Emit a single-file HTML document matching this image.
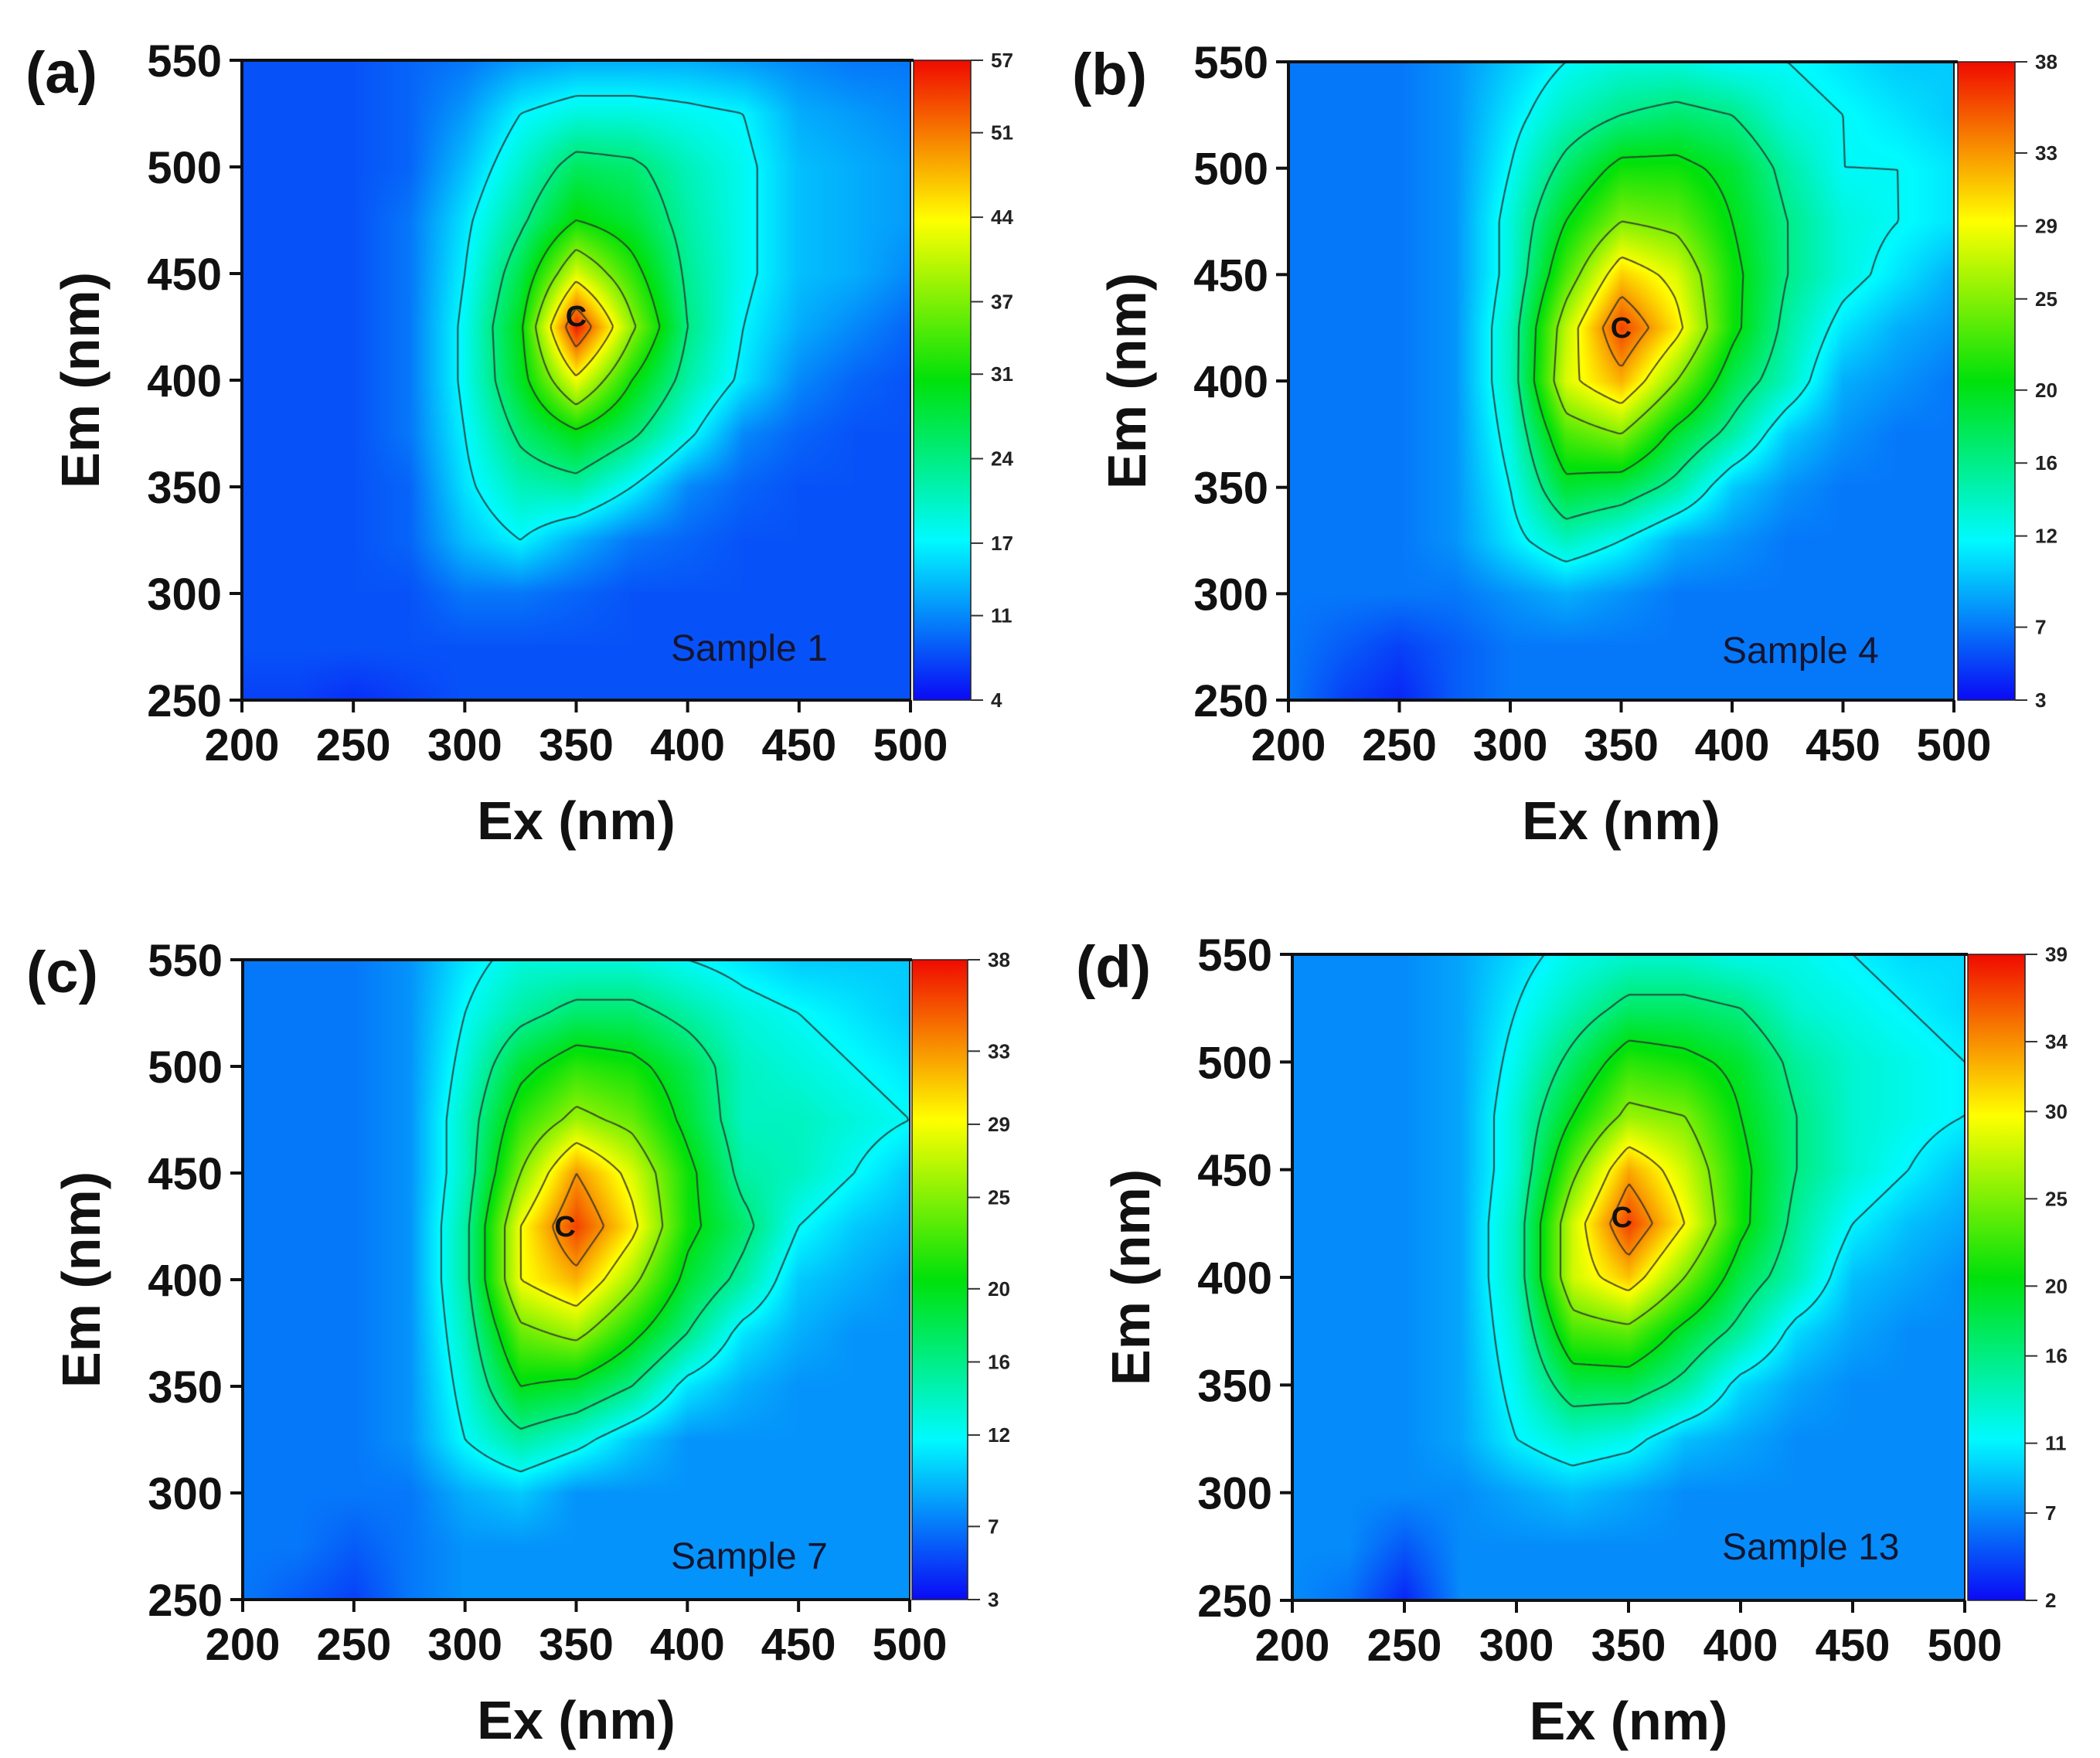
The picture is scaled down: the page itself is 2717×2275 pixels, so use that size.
<!DOCTYPE html>
<html><head><meta charset="utf-8">
<style>
html,body{margin:0;padding:0;background:#fff;}
body{width:2717px;height:2275px;position:relative;overflow:hidden;font-family:"Liberation Sans",Arial,sans-serif;}
canvas{position:absolute;}
svg{position:absolute;left:0;top:0;}
</style></head>
<body>
<canvas id="cvA"></canvas>
<canvas id="cvB"></canvas>
<canvas id="cvC"></canvas>
<canvas id="cvD"></canvas>
<svg id="ov" width="2717" height="2275" xmlns="http://www.w3.org/2000/svg"></svg>
<script>
// ---- data ----
const exCats = [200,225,250,275,300,325,350,375,400,425,450,475,500];
const emCats = [550,525,500,475,450,425,400,375,350,325,300,275,250];
const xTicks = [200,250,300,350,400,450,500];
const yTicks = [250,300,350,400,450,500,550];

const gridA = [
[8,8,8,9,10,12,13,13,13,12,11,10,10],
[8,8,8,9,12,17,19,19,18,17,13,12,11],
[8,8,8,9,14,20,26,25,21,18,14,13,12],
[8,8,8,10,16,23,31,28,22,18,14,13,12],
[8,8,8,10,17,27,42,33,23,18,14,13,11],
[8,8,8,10,18,30,56,38,24,17,13,11,9],
[8,8,8,10,18,29,43,31,22,16,11,9,8],
[8,8,8,10,17,25,30,25,18,11,9,8,8],
[8,8,8,9,16,21,22,17,11,9,8,8,8],
[8,8,8,9,14,17,13,10,9,8,8,8,8],
[8,8,8,8,10,10,9,8,8,8,8,8,8],
[8,8,8,8,8,8,8,8,8,8,8,8,8],
[7,7,6,7,8,8,8,8,8,8,8,8,8]];
const gridB = [
[7,7,7,8,10,12,13,13,12,12,11,10,10],
[7,7,7,8,11,14,16,17,16,13,12,11,10],
[7,7,7,8,12,17,21,21,19,15,12,12,11],
[7,7,7,8,13,20,25,24,20,16,13,12,11],
[7,7,7,8,13,23,31,28,21,16,13,11,9],
[7,7,7,8,14,27,36,30,21,15,11,9,8],
[7,7,7,8,14,28,32,25,18,14,9,8,7],
[7,7,7,8,13,23,25,19,15,10,8,7,7],
[7,7,7,8,12,19,18,15,10,8,7,7,7],
[7,7,7,8,11,14,12,9,8,7,7,7,7],
[7,7,7,7,8,9,8,7,7,7,7,7,7],
[7,6,5,6,7,7,7,7,7,7,7,7,7],
[7,5,4,6,7,7,7,7,7,7,7,7,7]];
const gridC = [
[7,7,7,8,11,13,13,13,12,11,10,10,10],
[7,7,7,8,12,15,17,17,15,13,12,11,10],
[7,7,7,8,13,19,22,21,18,14,13,12,11],
[7,7,7,8,14,22,26,24,19,14,14,13,12],
[7,7,7,8,14,25,33,28,21,15,14,12,10],
[7,7,7,8,15,29,36,30,21,17,12,10,9],
[7,7,7,8,15,29,32,26,19,15,10,9,8],
[7,7,7,8,14,24,26,21,16,11,9,8,8],
[7,7,7,8,13,20,19,16,11,9,8,8,8],
[7,7,7,8,12,15,13,10,8,8,8,8,8],
[7,7,7,7,9,10,8,8,8,8,8,8,8],
[7,7,6,7,8,8,8,8,8,8,8,8,8],
[7,6,5,7,8,8,8,8,8,8,8,8,8]];
const gridD = [
[7,7,7,8,10,12,13,13,12,12,11,10,10],
[7,7,7,8,11,14,17,17,16,13,12,11,10],
[7,7,7,8,12,17,22,21,19,15,13,12,11],
[7,7,7,8,13,20,26,25,20,16,13,12,11],
[7,7,7,8,13,24,33,28,21,16,13,11,9],
[7,7,7,8,14,28,37,30,21,15,11,9,8],
[7,7,7,8,14,28,32,25,18,14,9,8,7],
[7,7,7,8,13,23,24,19,15,10,8,7,7],
[7,7,7,8,12,18,18,15,10,8,7,7,7],
[7,7,7,8,11,13,12,9,8,7,7,7,7],
[7,7,7,7,8,9,8,7,7,7,7,7,7],
[7,7,5,7,7,7,7,7,7,7,7,7,7],
[7,6,3,7,7,7,7,7,7,7,7,7,7]];

const cbTicksA = [4,11,17,24,31,37,44,51,57];
const cbTicksB = [3,7,12,16,20,25,29,33,38];
const cbTicksC = [3,7,12,16,20,25,29,33,38];
const cbTicksD = [2,7,11,16,20,25,30,34,39];

const peakA = [350,430], peakB = [350,425], peakC = [345,425], peakD = [347,428];

// ---- layout ----
const panels = [
 {id:'a', cv:'cvA', grid:gridA, ticks:cbTicksA, peak:peakA, sample:'Sample 1', x0:313,x1:1178,y0:78,y1:906, cb0:1182,cb1:1256, sx:868, sy:855},
 {id:'b', cv:'cvB', grid:gridB, ticks:cbTicksB, peak:peakB, sample:'Sample 4', x0:1667,x1:2528,y0:80,y1:906, cb0:2533,cb1:2607, sx:2228, sy:858},
 {id:'c', cv:'cvC', grid:gridC, ticks:cbTicksC, peak:peakC, sample:'Sample 7', x0:314,x1:1177,y0:1242,y1:2070, cb0:1180,cb1:1252, sx:868, sy:2030},
 {id:'d', cv:'cvD', grid:gridD, ticks:cbTicksD, peak:peakD, sample:'Sample 13', x0:1672,x1:2542,y0:1235,y1:2071, cb0:2546,cb1:2620, sx:2228, sy:2018}
];
function xScale(p,ex){return p.x0+(ex-200)/300*(p.x1-p.x0);}
function yScale(p,em){return p.y1-(em-250)/300*(p.y1-p.y0);}

const stops=[[0,[10,10,245]],[0.25,[0,250,255]],[0.5,[0,225,10]],[0.75,[255,255,0]],[1,[240,10,0]]];
function cmap(t){
  t=Math.max(0,Math.min(1,t));
  for(let i=1;i<stops.length;i++){
    if(t<=stops[i][0]){const a=stops[i-1],b=stops[i];const f=(t-a[0])/(b[0]-a[0]);
      return [0,1,2].map(k=>Math.round(a[1][k]+(b[1][k]-a[1][k])*f));}
  }
  return stops[stops.length-1][1];
}
function sample(grid,ex,em){
  let fx=(ex-200)/25, fy=(550-em)/25;
  fx=Math.max(0,Math.min(12,fx)); fy=Math.max(0,Math.min(12,fy));
  const i=Math.min(11,Math.floor(fx)), j=Math.min(11,Math.floor(fy));
  const u=fx-i, v=fy-j;
  const a=grid[j][i], b=grid[j][i+1], c=grid[j+1][i], d=grid[j+1][i+1];
  return a*(1-u)*(1-v)+b*u*(1-v)+c*(1-u)*v+d*u*v;
}

const NS='http://www.w3.org/2000/svg';
const ov=document.getElementById('ov');
function el(tag,attrs,parent){const e=document.createElementNS(NS,tag);for(const k in attrs)e.setAttribute(k,attrs[k]);(parent||ov).appendChild(e);return e;}

panels.forEach(p=>{
  const W=Math.round(p.x1-p.x0), H=Math.round(p.y1-p.y0);
  const cv=document.getElementById(p.cv);
  cv.width=W;cv.height=H;cv.style.left=p.x0+'px';cv.style.top=p.y0+'px';
  const ctx=cv.getContext('2d');
  const img=ctx.createImageData(W,H);
  const vmin=p.ticks[0], vmax=p.ticks[p.ticks.length-1];
  for(let y=0;y<H;y++){
    const em=550-(y/H)*300;
    for(let x=0;x<W;x++){
      const ex=200+(x/W)*300;
      const c=cmap((sample(p.grid,ex,em)-vmin)/(vmax-vmin));
      const o=(y*W+x)*4;img.data[o]=c[0];img.data[o+1]=c[1];img.data[o+2]=c[2];img.data[o+3]=255;
    }
  }
  ctx.putImageData(img,0,0);
  const st=4, nx=Math.ceil(W/st)+1, ny=Math.ceil(H/st)+1;
  const f=[];
  for(let j=0;j<ny;j++){f.push([]);for(let i=0;i<nx;i++){f[j].push(sample(p.grid,200+Math.min(W,i*st)/W*300,550-Math.min(H,j*st)/H*300));}}
  ctx.strokeStyle='rgba(45,45,45,0.85)';ctx.lineWidth=2;
  const levels=p.ticks.slice(2,p.ticks.length-1);
  levels.forEach(L=>{
    ctx.beginPath();
    for(let j=0;j<ny-1;j++)for(let i=0;i<nx-1;i++){
      const v=[f[j][i],f[j][i+1],f[j+1][i+1],f[j+1][i]];
      const pc=[[i,j],[i+1,j],[i+1,j+1],[i,j+1]];
      const pts=[];
      for(let k=0;k<4;k++){const a=v[k],b=v[(k+1)%4];
        if((a<L)!==(b<L)){const t=(L-a)/(b-a);const A=pc[k],B=pc[(k+1)%4];
          pts.push([(A[0]+(B[0]-A[0])*t)*st,(A[1]+(B[1]-A[1])*t)*st]);}}
      for(let k=0;k+1<pts.length;k+=2){ctx.moveTo(pts[k][0],pts[k][1]);ctx.lineTo(pts[k+1][0],pts[k+1][1]);}
    }
    ctx.stroke();
  });

  const g=el('g',{});
  
  
  const gid='grad'+p.id;
  const defs=el('defs',{},g);
  const lg=el('linearGradient',{id:gid,x1:0,y1:1,x2:0,y2:0},defs);
  stops.forEach(s=>el('stop',{offset:s[0],'stop-color':'rgb('+s[1].join(',')+')'},lg));
  el('rect',{x:p.cb0,y:p.y0,width:p.cb1-p.cb0,height:p.y1-p.y0,fill:'url(#'+gid+')',stroke:'#222','stroke-width':1.5},g);
  p.ticks.forEach(tv=>{
    const ty=p.y1-(tv-vmin)/(vmax-vmin)*(p.y1-p.y0);
    const ln=el('line',{x1:p.cb1,x2:p.cb1+16,y1:ty,y2:ty,stroke:'#333','stroke-width':2},g);
    
    
    const t=el('text',{x:p.cb1+26,y:ty+9,'font-size':26,'font-weight':'bold',fill:'#222'},g);
    
    
    t.textContent=tv;
  });

  const fr=el('path',{d:`M${p.x0} ${p.y1} L${p.x0} ${p.y0} L${p.cb0} ${p.y0} M${p.x0-2} ${p.y1} L${p.x1} ${p.y1}`,fill:'none',stroke:'#111','stroke-width':4});
  
  
  el('line',{x1:p.x1,x2:p.x1,y1:p.y0,y2:p.y1,stroke:'#111','stroke-width':2});

  xTicks.forEach(v=>{
    const x=xScale(p,v);
    const tk=el('line',{x1:x,x2:x,y1:p.y1,y2:p.y1+16,stroke:'#111','stroke-width':4});
    
    
    const t=el('text',{x:x,y:p.y1+78,'font-size':58,'font-weight':'bold','text-anchor':'middle',fill:'#111'});
    
    
    t.textContent=v;
  });
  yTicks.forEach(v=>{
    const y=yScale(p,v);
    const tk=el('line',{x1:p.x0-16,x2:p.x0,y1:y,y2:y,stroke:'#111','stroke-width':4});
    
    
    const t=el('text',{x:p.x0-26,y:y+21,'font-size':58,'font-weight':'bold','text-anchor':'end',fill:'#111'});
    
    
    t.textContent=v;
  });
  const xt=el('text',{x:(p.x0+p.x1)/2,y:p.y1+180,'font-size':70,'font-weight':'bold','text-anchor':'middle',fill:'#111'});
  
  
  xt.textContent='Ex (nm)';
  const cy=(p.y0+p.y1)/2, cx=p.x0-185;
  const yt=el('text',{x:cx,y:cy,'font-size':70,'font-weight':'bold','text-anchor':'middle',fill:'#111',transform:`rotate(-90 ${cx} ${cy})`});
  
  
  yt.textContent='Em (nm)';
  const pl=el('text',{x:p.x0-280,y:p.y0+42,'font-size':76,'font-weight':'bold',fill:'#111'});
  
  
  pl.textContent='('+p.id+')';
  const sm=el('text',{x:p.sx,y:p.sy,'font-size':48,fill:'#151530'});
  
  
  sm.textContent=p.sample;
  const pk=el('text',{x:xScale(p,p.peak[0]),y:yScale(p,p.peak[1])+13,'font-size':38,'font-weight':'bold','text-anchor':'middle',fill:'#111'});
  
  
  pk.textContent='C';
});
</script>
</body></html>
